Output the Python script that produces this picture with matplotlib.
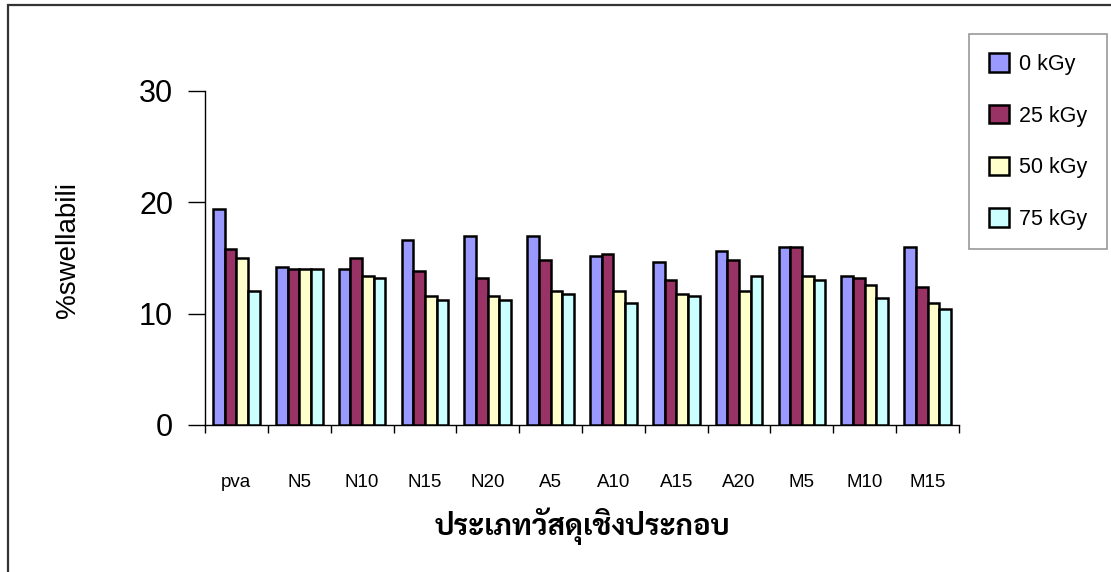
import matplotlib
matplotlib.use("Agg")
import matplotlib.pyplot as plt
import numpy as np
from matplotlib.patches import Rectangle

# Composite sample types and swelling percentages at each irradiation dose
categories = ["pva", "N5", "N10", "N15", "N20", "A5", "A10", "A15", "A20", "M5", "M10", "M15"]
dose_labels = ["0 kGy", "25 kGy", "50 kGy", "75 kGy"]
swell_0kgy = [19.4, 14.2, 14.0, 16.6, 17.0, 17.0, 15.2, 14.6, 15.6, 16.0, 13.4, 16.0]
swell_25kgy = [15.8, 14.0, 15.0, 13.8, 13.2, 14.8, 15.4, 13.0, 14.8, 16.0, 13.2, 12.4]
swell_50kgy = [15.0, 14.0, 13.4, 11.6, 11.6, 12.0, 12.0, 11.8, 12.0, 13.4, 12.6, 11.0]
swell_75kgy = [12.0, 14.0, 13.2, 11.2, 11.2, 11.8, 11.0, 11.6, 13.4, 13.0, 11.4, 10.4]
yticks = [0, 10, 20, 30]
ylabel = "%swellabili"
xlabel = "ประเภทวัสดุเชิงประกอบ"

series = [swell_0kgy, swell_25kgy, swell_50kgy, swell_75kgy]
colors = ["#9999FF", "#993366", "#FFFFCC", "#CCFFFF"]

plt.rcParams["font.family"] = ["Liberation Sans", "DejaVu Sans"]
thai_family = ["Sarabun", "Noto Sans Thai Looped", "Noto Sans Thai", "DejaVu Sans"]

W, H = 1111, 572
fig = plt.figure(figsize=(W / 100, H / 100), dpi=100)
ax = fig.add_axes([205 / W, 1 - 425 / H, (959 - 205) / W, (425 - 91) / H])

x = np.arange(len(categories))
bar_w = 0.186
offsets = (np.arange(len(series)) - 1.5) * bar_w
for vals, off, col, lab in zip(series, offsets, colors, dose_labels):
    ax.bar(x + off, vals, width=bar_w, color=col, edgecolor="black",
           linewidth=1.8, label=lab, zorder=3)

ax.set_xlim(-0.5, len(categories) - 0.5)
ax.set_ylim(0, 30)
ax.set_yticks(yticks)
ax.set_yticklabels([str(t) for t in yticks], fontsize=22)
ax.tick_params(axis="y", direction="out", length=12, width=1.0, pad=11,
               colors="black")

# category boundaries carry the tick marks, group centres carry the names
ax.set_xticks(np.arange(len(categories) + 1) - 0.5)
ax.set_xticklabels([])
ax.tick_params(axis="x", which="major", direction="out", length=6, width=1.0)
ax.set_xticks(x, minor=True)
ax.set_xticklabels(categories, minor=True, fontsize=13.5)
ax.tick_params(axis="x", which="minor", length=0, pad=35)

for side in ("top", "right"):
    ax.spines[side].set_visible(False)
for side in ("left", "bottom"):
    ax.spines[side].set_linewidth(1.0)
    ax.spines[side].set_color("black")

ax.set_ylabel(ylabel, fontsize=20)
ax.yaxis.set_label_coords(-0.1645, 0.524)
ax.set_xlabel(xlabel, family=thai_family, fontsize=21, fontweight="bold",
              labelpad=12)

leg = fig.legend(loc="upper right", bbox_to_anchor=(1107 / W, 1 - 34 / H),
                 bbox_transform=fig.transFigure, borderaxespad=0,
                 fontsize=15.5, frameon=True, fancybox=False,
                 handlelength=0.93, handleheight=0.93, handletextpad=0.5,
                 labelspacing=1.4, borderpad=0.9)
leg.get_frame().set_edgecolor("#808080")
leg.get_frame().set_linewidth(1.2)

# outer chart-area border running off the right and bottom edges
fig.patches.append(Rectangle((8 / W, -0.1), 1.2, 1 - 5 / H + 0.1,
                             transform=fig.transFigure, fill=False,
                             edgecolor="#333333", linewidth=1.6))

fig.savefig("out.png", dpi=100)
